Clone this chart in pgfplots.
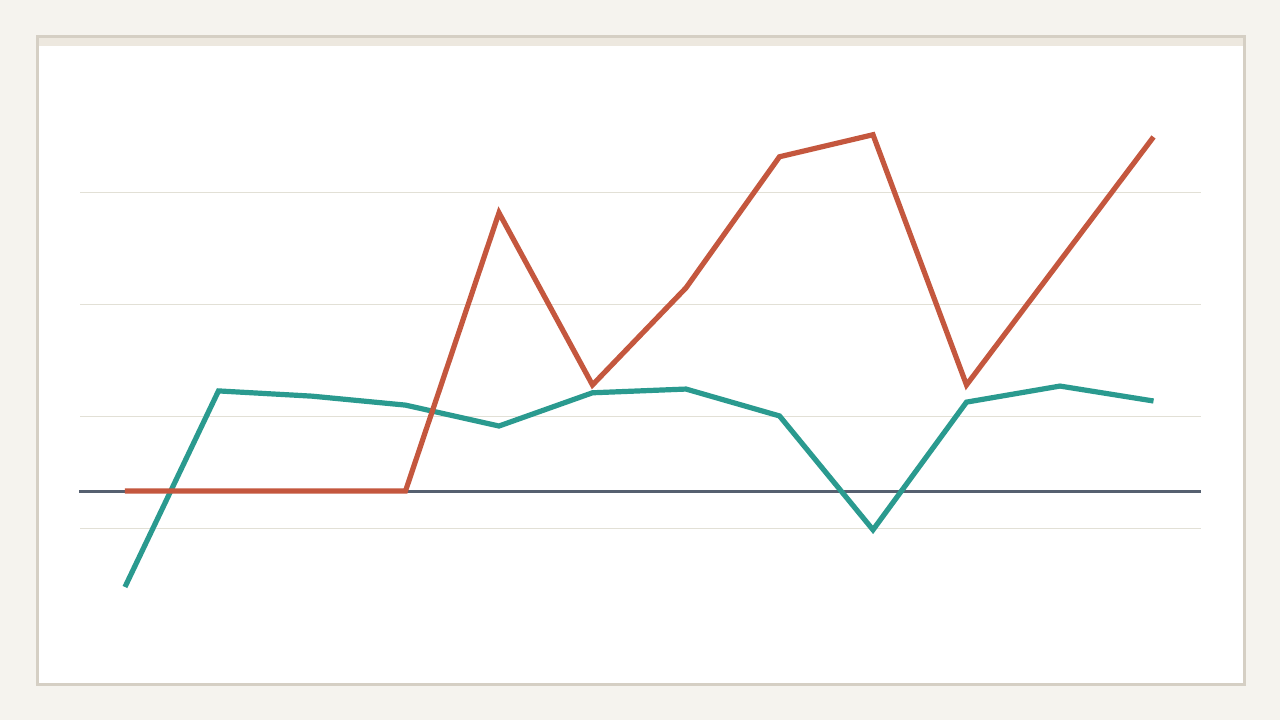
\documentclass[border=0pt]{standalone}
\usepackage{pgfplots}
\pgfplotsset{compat=1.18}
\definecolor{bgc}{HTML}{F5F3EE}
\definecolor{cardborder}{HTML}{D5CFC4}
\definecolor{band}{HTML}{EDE8DF}
\definecolor{gridc}{HTML}{E2E0D6}
\definecolor{redc}{HTML}{C4573E}
\definecolor{tealc}{HTML}{2A9A8F}
\definecolor{zeroc}{HTML}{566070}
\begin{document}
\begin{tikzpicture}[x=1pt,y=1pt]
\fill[bgc] (0,0) rectangle (640,360);
\fill[white] (18.5,18) rectangle (622,342);
\fill[band] (18.5,337) rectangle (622,342);
\draw[cardborder, line width=1.5pt] (18.5,18) rectangle (622,342);
\begin{axis}[
  at={(40pt,40pt)}, anchor=south west,
  scale only axis, width=560.5pt, height=270pt,
  xmin=-0.481, xmax=11.508, ymin=-39.9, ymax=104.7,
  axis line style={draw=none}, clip=false,
  ytick={-10,20,50,80}, xtick=\empty,
  major tick length=0pt,
  ymajorgrids, grid style={gridc, line width=0.6pt},
  yticklabels={},
]
\addplot[zeroc, line width=1.5pt] coordinates {(-0.49,0) (11.508,0)};
\addplot[tealc, line width=2.6pt, line join=miter] coordinates {
(0,-25.7) (1,26.8) (2,25.4) (3,23.0) (4,17.4) (5,26.3) (6,27.3) (7,20.1) (8,-10.4) (9,23.8) (10,28.1) (11,24.1)};
\addplot[redc, line width=2.6pt, line join=miter] coordinates {
(0,0) (1,0) (2,0) (3,0) (4,74.5) (5,28.4) (6,54.4) (7,89.5) (8,95.4) (9,28.4) (10,61.6) (11,94.8)};
\end{axis}
\end{tikzpicture}
\end{document}
